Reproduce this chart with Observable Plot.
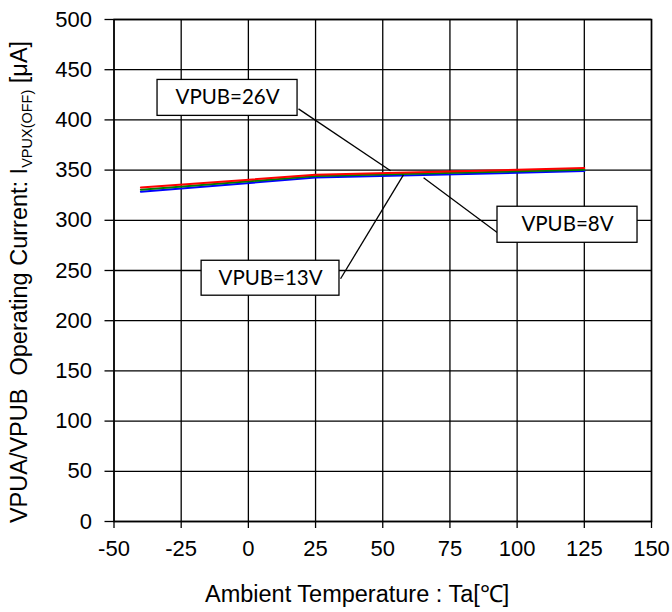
<!DOCTYPE html>
<html>
<head>
<meta charset="utf-8">
<script src="https://cdn.jsdelivr.net/npm/d3@7"></script>
<script src="https://cdn.jsdelivr.net/npm/@observablehq/plot@0.6"></script>
<style>
  body { margin: 0; background: #fff; }
  svg { display: block; }
</style>
</head>
<body>
<div id="chart"></div>
<script>
const temps = [-40, 25, 125];
const seriesNames = ["VPUB=13V", "VPUB=8V", "VPUB=26V"];
const seriesColors = ["#0000ff", "#008000", "#ff0000"];
const seriesValues = [
  [328.4, 342.6, 349],
  [330.5, 344, 350.3],
  [332.7, 345.3, 352]
];
const xTicks = [-50, -25, 0, 25, 50, 75, 100, 125, 150];
const yTicks = [0, 50, 100, 150, 200, 250, 300, 350, 400, 450, 500];

// annotation boxes (data coordinates) and leader lines
const labels = ["VPUB=26V", "VPUB=13V", "VPUB=8V"];
const boxX1 = [-33.8, -17.4, 92.7];
const boxX2 = [18.3, 33.9, 144.8];
const boxY1 = [404, 224.9, 277.6];
const boxY2 = [439.8, 259.7, 313.5];
const leadX1 = [18.65, 34.3, 92.7];
const leadY1 = [411, 241.8, 287.6];
const leadX2 = [52.9, 57.7, 65.2];
const leadY2 = [349.3, 345.3, 342.3];

const lineData = [];
seriesNames.forEach((s, i) => temps.forEach((t, j) => lineData.push({series: s, t, v: seriesValues[i][j], color: seriesColors[i]})));
const boxes = labels.map((l, i) => ({label: l, x1: boxX1[i], x2: boxX2[i], y1: boxY1[i], y2: boxY2[i]}));
const leaders = labels.map((l, i) => ({x1: leadX1[i], y1: leadY1[i], x2: leadX2[i], y2: leadY2[i]}));

const plot = Plot.plot({
  width: 672,
  height: 612,
  marginLeft: 113.5,
  marginRight: 21,
  marginTop: 19,
  marginBottom: 91,
  style: {fontFamily: "'Liberation Sans', Arial, sans-serif", fontSize: "22px", color: "#000", background: "#fff"},
  x: {domain: [-50, 150], ticks: xTicks, label: null},
  y: {domain: [0, 500], ticks: yTicks, label: null},
  marks: [
    Plot.gridX(xTicks, {stroke: "#000", strokeOpacity: 1, strokeWidth: 1.3}),
    Plot.gridY(yTicks, {stroke: "#000", strokeOpacity: 1, strokeWidth: 1.3}),
    Plot.axisX({ticks: xTicks, tickSize: 7, tickPadding: 12, fontSize: 22, tickFormat: d => String(d), stroke: "#000", strokeWidth: 1.3}),
    Plot.axisY({ticks: yTicks, tickSize: 9, tickPadding: 13, fontSize: 22, tickFormat: d => String(d), stroke: "#000", strokeWidth: 1.3}),
    Plot.frame({stroke: "#000", strokeWidth: 1.5}),
    Plot.line(lineData, {x: "t", y: "v", z: "series", stroke: "color", strokeWidth: 2}),
    Plot.link(leaders, {x1: "x1", y1: "y1", x2: "x2", y2: "y2", stroke: "#000", strokeWidth: 1.3}),
    Plot.rect(boxes, {x1: "x1", x2: "x2", y1: "y1", y2: "y2", fill: "#fff", stroke: "#000", strokeWidth: 1.3}),
    Plot.text(boxes, {x: d => (d.x1 + d.x2) / 2, y: d => (d.y1 + d.y2) / 2, text: "label", fontSize: 20.5, fontFamily: "Lato, 'Open Sans', sans-serif", fill: "#000"})
  ]
});

const svg = d3.select(plot);
// x axis label
svg.append("text")
  .attr("x", 205).attr("y", 602)
  .attr("text-anchor", "start")
  .attr("font-size", 23.5)
  .attr("fill", "#000")
  .text("Ambient Temperature : Ta[℃]");
// y axis label with subscript
const yl = svg.append("text")
  .attr("transform", "translate(27,282) rotate(-90)")
  .attr("text-anchor", "middle")
  .attr("font-size", 23.5)
  .attr("fill", "#000");
yl.append("tspan").text("VPUA/VPUB  Operating Current: I");
yl.append("tspan").attr("font-size", 14.5).attr("dy", 5).text("VPUX(OFF)");
yl.append("tspan").attr("dy", -5).text(" [μA]");

document.getElementById("chart").appendChild(plot);
</script>
</body>
</html>
